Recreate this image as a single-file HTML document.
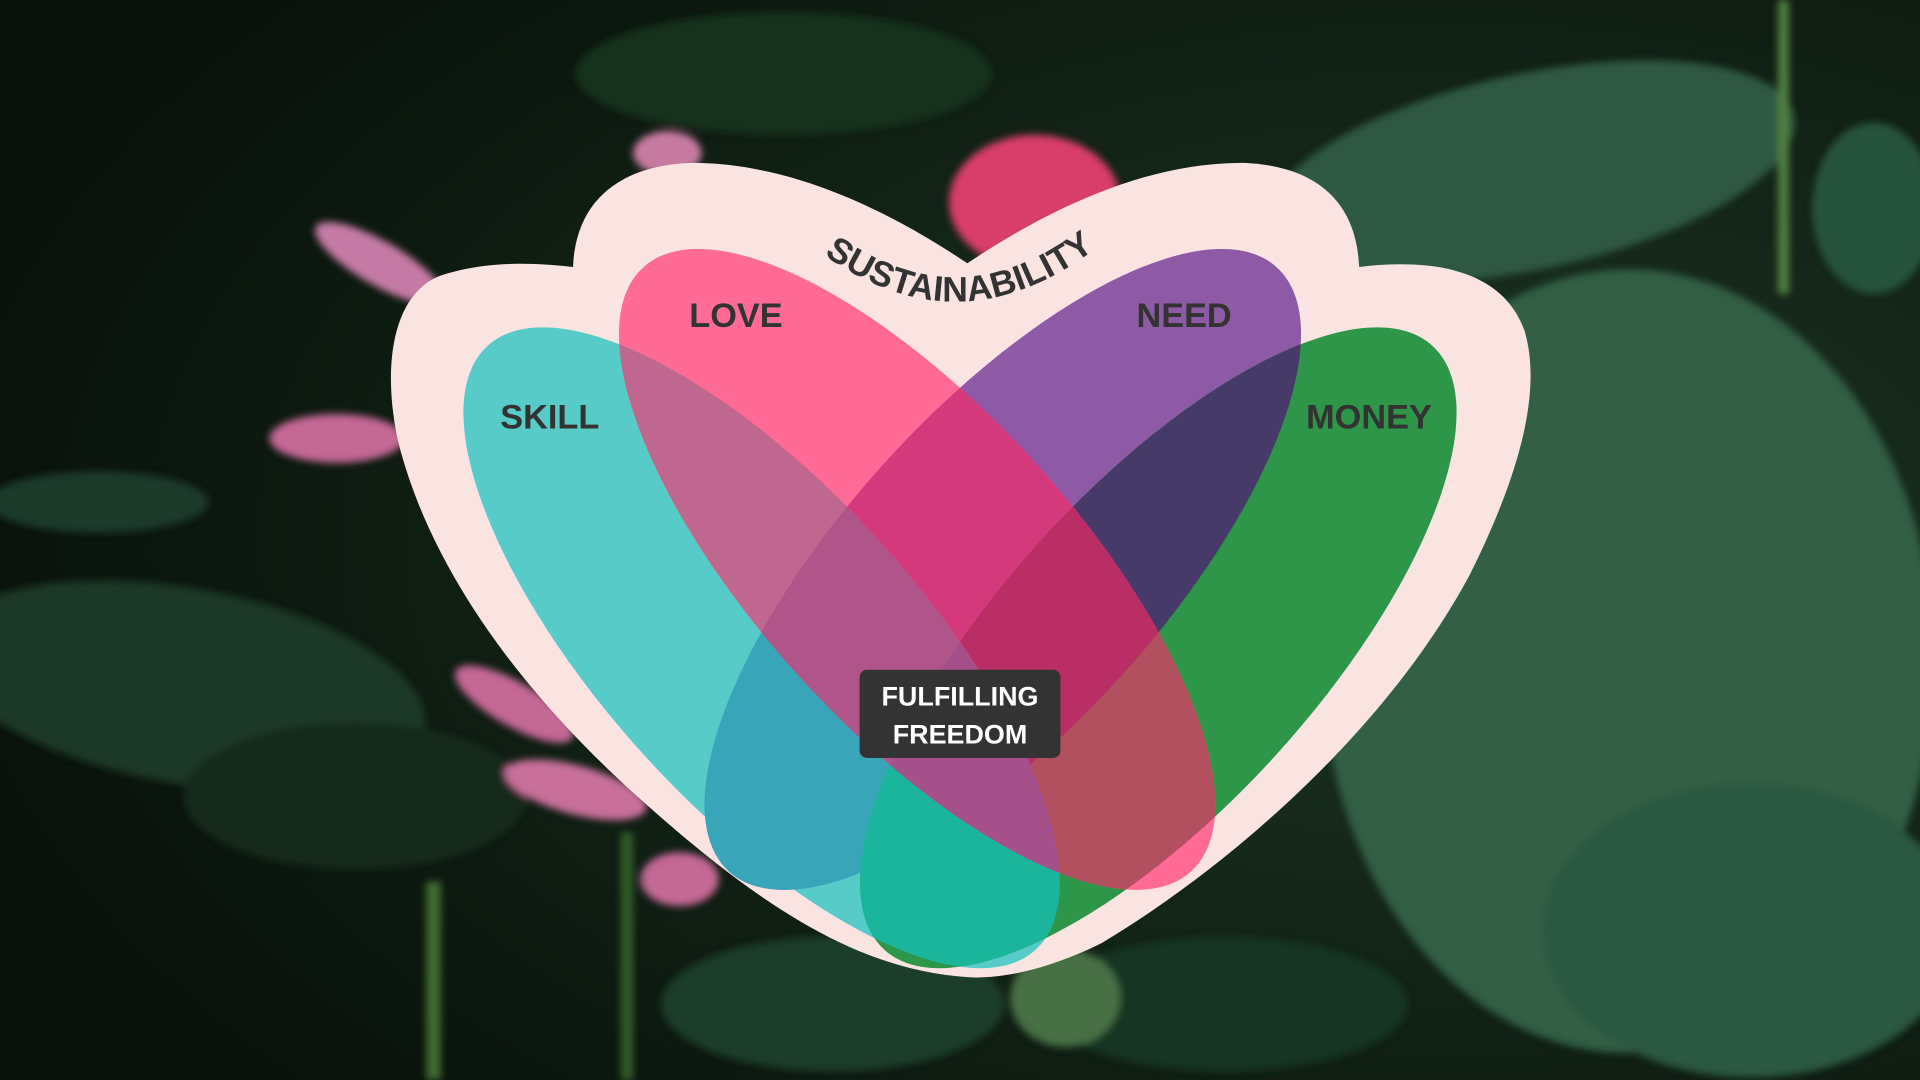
<!DOCTYPE html>
<html><head><meta charset="utf-8"><style>
html,body{margin:0;padding:0;background:#0a140d;overflow:hidden}
svg{display:block}
text{font-family:"Liberation Sans",sans-serif;font-weight:bold}
</style></head><body>
<svg width="1920" height="1080" viewBox="0 0 1568 882" xmlns="http://www.w3.org/2000/svg">
<defs>
<radialGradient id="bg" cx="0.75" cy="0.5" r="0.8">
<stop offset="0" stop-color="#1d3524"/><stop offset="1" stop-color="#08110a"/></radialGradient>
<filter id="bl"><feGaussianBlur stdDeviation="3"/></filter>
<path id="arc" d="M 662 200 Q 783 295 905 195"/>
<clipPath id="cNeed"><ellipse cx="819" cy="465" rx="333" ry="130" transform="rotate(-47.8 819 465)"/></clipPath>
<clipPath id="cTeal"><ellipse cx="622" cy="529" rx="333" ry="130" transform="rotate(47.8 622 529)"/></clipPath>
<clipPath id="cLove"><ellipse cx="749" cy="465" rx="333" ry="130" transform="rotate(47.8 749 465)"/></clipPath>
<clipPath id="cGreen"><ellipse cx="946" cy="529" rx="333" ry="130" transform="rotate(-47.8 946 529)"/></clipPath>
<clipPath id="cLow"><rect x="500" y="560" width="200" height="200"/></clipPath>
</defs>
<rect width="1568" height="882" fill="url(#bg)"/>
<g filter="url(#bl)">
<ellipse cx="1330" cy="540" rx="250" ry="320" fill="#325f45"/>
<ellipse cx="1430" cy="760" rx="170" ry="120" fill="#2b5840"/>
<ellipse cx="1250" cy="140" rx="220" ry="80" fill="#2e5842" transform="rotate(-12 1250 140)"/>
<ellipse cx="1530" cy="170" rx="50" ry="70" fill="#26533a"/>
<ellipse cx="640" cy="60" rx="170" ry="50" fill="#17301f"/>
<ellipse cx="150" cy="560" rx="200" ry="80" fill="#1a3826" transform="rotate(10 150 560)"/>
<ellipse cx="290" cy="650" rx="140" ry="60" fill="#132a1b"/>
<ellipse cx="80" cy="410" rx="90" ry="25" fill="#1e3a2a"/>
<ellipse cx="680" cy="820" rx="140" ry="55" fill="#1c3d2a"/>
<ellipse cx="1000" cy="820" rx="150" ry="55" fill="#183424"/>
<ellipse cx="870" cy="815" rx="45" ry="40" fill="#476f45"/>
<ellipse cx="845" cy="165" rx="70" ry="55" fill="#d93e6a"/>
<ellipse cx="310" cy="215" rx="60" ry="18" fill="#c47aa5" transform="rotate(30 310 215)"/>
<ellipse cx="275" cy="358" rx="55" ry="20" fill="#c46794"/>
<ellipse cx="420" cy="575" rx="55" ry="18" fill="#c46794" transform="rotate(30 420 575)"/>
<ellipse cx="470" cy="645" rx="60" ry="20" fill="#c8709a" transform="rotate(15 470 645)"/>
<ellipse cx="555" cy="718" rx="32" ry="22" fill="#c46794"/>
<ellipse cx="545" cy="125" rx="28" ry="18" fill="#c77aa0"/>
<rect x="348" y="720" width="12" height="162" fill="#3f6a30"/>
<rect x="507" y="680" width="10" height="202" fill="#325d28"/>
<rect x="1452" y="0" width="9" height="240" fill="#4f8040"/>
</g>
<path d="M790 798 C 700 792 620 740 520 650 C 420 560 350 460 325 360 C 312 300 320 240 360 225 C 400 212 440 215 468 218 C 470 165 505 135 565 133 C 650 133 730 175 790 215 C 850 175 930 133 1015 133 C 1075 135 1108 165 1110 218 C 1160 212 1225 215 1245 270 C 1260 320 1240 390 1200 470 C 1130 600 1000 710 900 770 C 860 790 820 800 790 798 Z" fill="#f9e4e2"/>
<ellipse cx="819" cy="465" rx="333" ry="130" transform="rotate(-47.8 819 465)" fill="#8e5aa5"/>
<ellipse cx="622" cy="529" rx="333" ry="130" transform="rotate(47.8 622 529)" fill="#57cbc8"/>
<ellipse cx="946" cy="529" rx="333" ry="130" transform="rotate(-47.8 946 529)" fill="#2e9648"/>
<g clip-path="url(#cNeed)">
<ellipse cx="946" cy="529" rx="333" ry="130" transform="rotate(-47.8 946 529)" fill="#463a68"/>
<ellipse cx="622" cy="529" rx="333" ry="130" transform="rotate(47.8 622 529)" fill="#38a6b8"/>
<rect x="500" y="560" width="200" height="200" fill="#38a6b8" clip-path="url(#cLow)"/>
</g>
<g clip-path="url(#cTeal)">
<ellipse cx="946" cy="529" rx="333" ry="130" transform="rotate(-47.8 946 529)" fill="#1ab59a"/>
</g>
<ellipse cx="749" cy="465" rx="333" ry="130" transform="rotate(47.8 749 465)" fill="#ff6b96"/>
<g clip-path="url(#cLove)">
<ellipse cx="819" cy="465" rx="333" ry="130" transform="rotate(-47.8 819 465)" fill="#d43a7b"/>
<ellipse cx="946" cy="529" rx="333" ry="130" transform="rotate(-47.8 946 529)" fill="#b2505f"/>
<g clip-path="url(#cNeed)"><ellipse cx="946" cy="529" rx="333" ry="130" transform="rotate(-47.8 946 529)" fill="#b82e65"/></g>
<ellipse cx="622" cy="529" rx="333" ry="130" transform="rotate(47.8 622 529)" fill="#c06790"/>
<g clip-path="url(#cNeed)"><ellipse cx="622" cy="529" rx="333" ry="130" transform="rotate(47.8 622 529)" fill="#b0558a"/></g>
<g clip-path="url(#cGreen)"><ellipse cx="622" cy="529" rx="333" ry="130" transform="rotate(47.8 622 529)" fill="#a5508a"/></g>
</g>
<text font-size="29" fill="#333"><textPath href="#arc" startOffset="50%" text-anchor="middle" textLength="240">SUSTAINABILITY</textPath></text>
<text x="449" y="350" font-size="28" fill="#333" text-anchor="middle">SKILL</text>
<text x="601" y="267" font-size="28" fill="#333" text-anchor="middle">LOVE</text>
<text x="967" y="267" font-size="28" fill="#333" text-anchor="middle">NEED</text>
<text x="1118" y="350" font-size="28" fill="#333" text-anchor="middle">MONEY</text>
<rect x="702" y="547" width="164" height="72" rx="6" fill="#333"/>
<text x="784" y="576" font-size="22" fill="#fff" text-anchor="middle">FULFILLING</text>
<text x="784" y="607" font-size="22" fill="#fff" text-anchor="middle">FREEDOM</text>
</svg>
</body></html>
